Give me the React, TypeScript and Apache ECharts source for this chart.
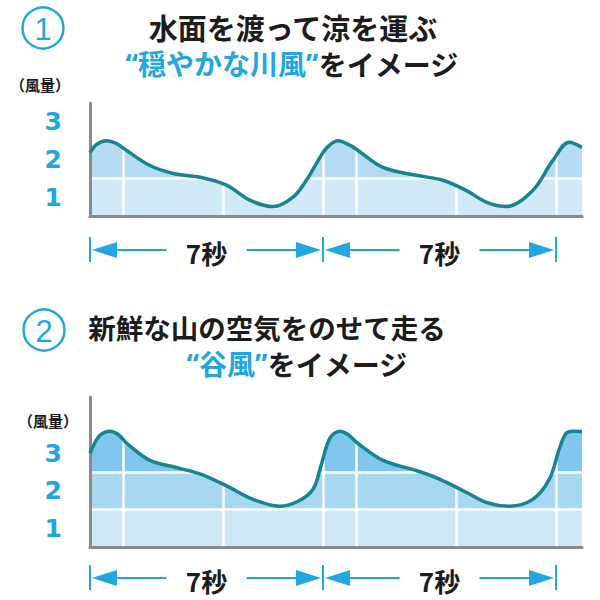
import React, { useEffect, useRef } from "react";
import * as echarts from "echarts";

// ---- data ----
const timeRiver = [0, 0.2, 0.5, 0.8, 1.1, 1.8, 2.5, 3.3, 4.1, 4.8, 5.5, 6.1, 6.5, 6.8, 7.1, 7.45, 7.8, 8.05, 8.8, 9.8, 10.6, 11.3, 11.9, 12.5, 13.3, 13.9, 14.4, 14.78];
const windRiver = [1.68, 1.9, 2.0, 1.92, 1.74, 1.34, 1.13, 1.03, 0.82, 0.42, 0.25, 0.5, 0.95, 1.39, 1.8, 2.0, 1.88, 1.74, 1.29, 1.08, 0.95, 0.68, 0.37, 0.25, 0.68, 1.47, 1.96, 1.82];

const timeValley = [0, 0.1, 0.3, 0.6, 0.85, 1.11, 1.8, 2.5, 3.3, 4.1, 4.9, 5.7, 6.25, 6.7, 6.95, 7.2, 7.5, 7.75, 8.05, 8.8, 9.8, 10.5, 11.3, 11.9, 12.6, 13.3, 13.8, 14.1, 14.3, 14.5, 14.78];
const windValley = [2.5, 2.7, 2.98, 3.09, 3.0, 2.76, 2.31, 2.14, 1.95, 1.63, 1.27, 1.09, 1.22, 1.54, 2.2, 2.89, 3.09, 3.0, 2.76, 2.31, 2.04, 1.81, 1.46, 1.19, 1.09, 1.27, 1.81, 2.62, 3.03, 3.09, 3.08];

const levelLabelsRiver = ["1", "2", "3"];
const levelLabelsValley = ["1", "2", "3", ""];
const levelMaxRiver = 3;
const levelMaxValley = 4;
const timeMax = 14.78;
const gridTimes = [1, 4, 7, 8, 11, 14];
const gridLevelsRiver = [1];
const gridLevelsValley = [1, 2];
const spanMarks = [0, 7, 14];
const spanLabel = "7秒";
const yAxisName = "（風量）";

const titleRiverLine1 = "水面を渡って涼を運ぶ";
const titleRiverQuote = "“穏やかな川風”";
const titleValleyLine1 = "新鮮な山の空気をのせて走る";
const titleValleyQuote = "“谷風”";
const titleTail = "をイメージ";

// ---- styles ----
const BLUE = "#22a6df";
const TEAL = "#178591";
const AXIS = "#8a8a8a";
const INK = "#1c1c1c";
const CJK = '"Noto Sans CJK JP", "Noto Sans", sans-serif';
const QUOTE_FONT = '"Noto Sans", "Noto Sans CJK JP", sans-serif';

const riverColors = ["#d2eaf8", "#b4dbf3", "#94cdf0"];
const valleyColors = ["#cee8f7", "#a8d7f2", "#80c6ee"];

function pieces(c: string[]) {
  return [
    { lt: 1, color: c[0] },
    { gte: 1, lt: 2, color: c[1] },
    { gte: 2, color: c[2] },
  ];
}

function pairs(t: number[], v: number[]) {
  return t.map((x, i) => [x, v[i]]);
}

function areaSeries(xi: number, yi: number, t: number[], v: number[], levels: number[]) {
  return {
    type: "line",
    xAxisIndex: xi,
    yAxisIndex: yi,
    data: pairs(t, v),
    smooth: 0.35,
    showSymbol: false,
    symbol: "none",
    silent: true,
    z: 2,
    lineStyle: { width: 0 },
    areaStyle: { opacity: 1 },
    markLine: {
      silent: true,
      symbol: "none",
      z: 5,
      label: { show: false },
      lineStyle: { color: "#ffffff", width: 2.5, type: "solid", opacity: 1 },
      data: [...gridTimes.map((x) => ({ xAxis: x })), ...levels.map((y) => ({ yAxis: y }))],
    },
  };
}

function lineSeries(xi: number, yi: number, t: number[], v: number[]) {
  return {
    type: "line",
    xAxisIndex: xi,
    yAxisIndex: yi,
    data: pairs(t, v),
    smooth: 0.35,
    showSymbol: false,
    symbol: "none",
    silent: true,
    z: 10,
    color: TEAL,
    lineStyle: { color: TEAL, width: 3.5 },
  };
}

function valueX(gridIndex: number) {
  return {
    type: "value",
    gridIndex,
    min: 0,
    max: timeMax,
    z: 6,
    axisLine: { show: true, lineStyle: { color: AXIS, width: 3 } },
    axisTick: { show: false },
    axisLabel: { show: false },
    splitLine: { show: false },
  };
}

function valueY(gridIndex: number, max: number) {
  return {
    type: "value",
    gridIndex,
    min: 0,
    max,
    interval: 1,
    z: 6,
    axisLine: { show: true, onZero: false, lineStyle: { color: AXIS, width: 3 } },
    axisTick: { show: false },
    axisLabel: { show: false },
    splitLine: { show: false },
  };
}

function labelY(gridIndex: number, labels: string[]) {
  return {
    type: "category",
    gridIndex,
    position: "left",
    data: labels,
    boundaryGap: true,
    axisLine: { show: false },
    axisTick: { show: false },
    splitLine: { show: false },
    axisLabel: {
      color: BLUE,
      fontSize: 25,
      fontWeight: "bold",
      fontFamily: "DejaVu Sans",
      margin: 28,
      padding: [6, 0, 0, 0],
    },
  };
}

function titleGraphics(
  num: string,
  cx: number,
  cy: number,
  line1: string,
  l1x: number,
  l1y: number,
  l1size: number,
  quote: string,
  l2x: number,
  l2y: number,
  axisNameX: number,
  axisNameY: number
) {
  return [
    { type: "circle", shape: { cx, cy, r: 20.5 }, style: { fill: "none", stroke: BLUE, lineWidth: 2.5 } },
    {
      type: "text",
      x: cx,
      y: cy + 1,
      style: { text: num, fill: BLUE, fontSize: 31, lineHeight: 31, fontFamily: "Liberation Sans", align: "center", verticalAlign: "middle" },
    },
    {
      type: "text",
      x: l1x,
      y: l1y,
      style: { text: line1, fill: INK, fontSize: l1size, lineHeight: 30, fontWeight: "bold", fontFamily: CJK, align: "center", verticalAlign: "middle" },
    },
    {
      type: "text",
      x: l2x,
      y: l2y,
      style: {
        text: "{q|" + quote + "}{k|" + titleTail + "}",
        align: "center",
        verticalAlign: "middle",
        lineHeight: 30,
        rich: {
          q: { fill: BLUE, color: BLUE, fontSize: 28, lineHeight: 30, fontWeight: "bold", fontFamily: QUOTE_FONT },
          k: { fill: INK, color: INK, fontSize: 28, lineHeight: 30, fontWeight: "bold", fontFamily: CJK },
        },
      },
    },
    {
      type: "text",
      x: axisNameX,
      y: axisNameY,
      style: { text: yAxisName, fill: INK, fontSize: 15, lineHeight: 16, fontWeight: "bold", fontFamily: CJK, align: "center", verticalAlign: "middle" },
    },
  ];
}

function spanGraphics(xs: number[], y: number) {
  const g: any[] = [];
  const arrowLen = 27;
  const arrowHalf = 8;
  const gap = 40;
  xs.forEach((x) => {
    g.push({ type: "line", shape: { x1: x, y1: y - 13, x2: x, y2: y + 12 }, style: { stroke: BLUE, lineWidth: 2 } });
  });
  for (let i = 0; i < xs.length - 1; i++) {
    const a = xs[i];
    const b = xs[i + 1];
    const mid = (a + b) / 2;
    g.push({ type: "line", shape: { x1: a + 5, y1: y, x2: mid - gap, y2: y }, style: { stroke: BLUE, lineWidth: 2 } });
    g.push({ type: "line", shape: { x1: mid + gap, y1: y, x2: b - 5, y2: y }, style: { stroke: BLUE, lineWidth: 2 } });
    g.push({
      type: "polygon",
      shape: { points: [[a + 2, y], [a + arrowLen, y - arrowHalf], [a + arrowLen, y + arrowHalf]] },
      style: { fill: BLUE },
    });
    g.push({
      type: "polygon",
      shape: { points: [[b - 2, y], [b - arrowLen, y - arrowHalf], [b - arrowLen, y + arrowHalf]] },
      style: { fill: BLUE },
    });
    g.push({
      type: "text",
      x: mid,
      y: y + 2,
      style: { text: spanLabel, fill: INK, fontSize: 26, lineHeight: 28, fontWeight: "bold", fontFamily: CJK, align: "center", verticalAlign: "middle" },
    });
  }
  return g;
}

export default function App() {
  const ref = useRef<HTMLDivElement>(null);

  useEffect(() => {
    if (!ref.current) return;
    const chart = echarts.init(ref.current, null, { renderer: "svg" });
    const option: any = {
      animation: false,
      backgroundColor: "#ffffff",
      grid: [
        { left: 90, top: 103, width: 492, height: 113, containLabel: false },
        { left: 90, top: 397, width: 492, height: 150, containLabel: false },
      ],
      xAxis: [valueX(0), valueX(1)],
      yAxis: [
        valueY(0, levelMaxRiver),
        labelY(0, levelLabelsRiver),
        valueY(1, levelMaxValley),
        labelY(1, levelLabelsValley),
      ],
      visualMap: [
        { type: "piecewise", show: false, seriesIndex: 0, dimension: 1, pieces: pieces(riverColors) },
        { type: "piecewise", show: false, seriesIndex: 2, dimension: 1, pieces: pieces(valleyColors) },
      ],
      series: [
        areaSeries(0, 0, timeRiver, windRiver, gridLevelsRiver),
        lineSeries(0, 0, timeRiver, windRiver),
        areaSeries(1, 2, timeValley, windValley, gridLevelsValley),
        lineSeries(1, 2, timeValley, windValley),
      ],
    };
    chart.setOption(option);

    const xsRiver = spanMarks.map((t) => chart.convertToPixel({ xAxisIndex: 0 }, t) as number);
    const xsValley = spanMarks.map((t) => chart.convertToPixel({ xAxisIndex: 1 }, t) as number);
    const baseRiver = chart.convertToPixel({ yAxisIndex: 0 }, 0) as number;
    const baseValley = chart.convertToPixel({ yAxisIndex: 2 }, 0) as number;

    const graphic = [
      ...titleGraphics("1", 43, 28, titleRiverLine1, 293, 27, 29, titleRiverQuote, 292, 64, 40, 84),
      ...titleGraphics("2", 44, 330, titleValleyLine1, 267, 327, 27.5, titleValleyQuote, 297, 364, 48, 420),
      ...spanGraphics(xsRiver, baseRiver + 34),
      ...spanGraphics(xsValley, baseValley + 31),
    ];
    chart.setOption({ graphic });

    return () => chart.dispose();
  }, []);

  return (
    <div
      ref={ref}
      style={{ position: "fixed", left: 0, top: 0, width: 600, height: 600, background: "#fff" }}
    />
  );
}
